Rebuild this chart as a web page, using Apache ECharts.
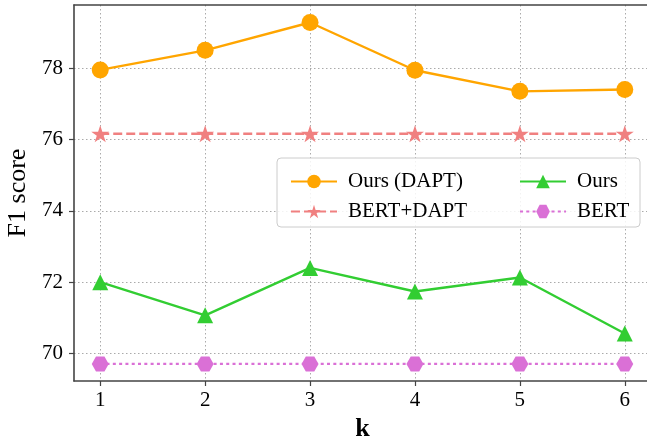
<!DOCTYPE html>
<html>
<head>
<meta charset="utf-8">
<script src="https://cdn.jsdelivr.net/npm/echarts@6/dist/echarts.min.js"></script>
<style>
html,body{margin:0;padding:0;background:#fff;}
#chart{width:647px;height:443px;}
</style>
</head>
<body>
<div id="chart"></div>
<script>
const kValues = [1, 2, 3, 4, 5, 6];
const yTicks = [70, 72, 74, 76, 78];
const oursDapt = [77.95, 78.50, 79.28, 77.94, 77.35, 77.40];
const bertDapt = [76.16, 76.16, 76.16, 76.16, 76.16, 76.16];
const ours = [72.00, 71.07, 72.40, 71.74, 72.13, 70.56];
const bert = [69.71, 69.71, 69.71, 69.71, 69.71, 69.71];

const FONT = 'Liberation Serif';
const pairs = arr => kValues.map((k, i) => [k, arr[i]]);
const STAR = 'path://M0,-10 L2.245,-3.09 L9.51,-3.09 L3.633,1.18 L5.88,8.09 L0,3.82 L-5.88,8.09 L-3.633,1.18 L-9.51,-3.09 L-2.245,-3.09 Z';
const HEX = 'path://M0,8 L4.6,0 L13.8,0 L18.4,8 L13.8,16 L4.6,16 Z';
const spine = {show: true, lineStyle: {color: '#444', width: 1.6}};
const grid = {show: true, lineStyle: {color: '#aaa', width: 1, type: [1.5, 2.5]}};

const chart = echarts.init(document.getElementById('chart'), null, {renderer: 'canvas'});
chart.setOption({
  animation: false,
  backgroundColor: '#fff',
  grid: {left: 74, top: 5, right: -4, bottom: 62, containLabel: false, outerBoundsMode: 'none'},
  xAxis: [{
    type: 'value', min: 0.75, max: 6.25,
    axisLine: spine,
    axisTick: {show: true, length: 5, lineStyle: {color: '#444', width: 1.2}, customValues: kValues},
    axisLabel: {fontFamily: FONT, fontSize: 21, color: '#000', margin: 9, customValues: kValues},
    splitLine: grid,
    name: 'k', nameLocation: 'middle', nameGap: 32,
    nameTextStyle: {fontFamily: FONT, fontSize: 26, fontWeight: 'bold', color: '#000'}
  }, {
    type: 'value', position: 'top', min: 0.75, max: 6.25,
    axisLine: spine, axisTick: {show: false}, axisLabel: {show: false}, splitLine: {show: false}
  }],
  yAxis: {
    type: 'value', min: 69.23, max: 79.77,
    axisLine: spine,
    axisTick: {show: true, length: 5, lineStyle: {color: '#444', width: 1.2}, customValues: yTicks},
    axisLabel: {fontFamily: FONT, fontSize: 21, color: '#000', margin: 11, customValues: yTicks},
    splitLine: grid,
    name: 'F1 score', nameLocation: 'middle', nameGap: 43,
    nameTextStyle: {fontFamily: FONT, fontSize: 26, color: '#000'}
  },
  graphic: [{
    type: 'rect', z: 3,
    shape: {x: 277, y: 158, width: 363, height: 69, r: 4},
    style: {fill: 'rgba(255,255,255,0.85)', stroke: '#cccccc', lineWidth: 1}
  }],
  legend: [{
    data: ['Ours (DAPT)', 'BERT+DAPT'],
    orient: 'vertical', left: 285, top: 166, z: 5,
    itemWidth: 46, itemHeight: 17, itemGap: 9,
    textStyle: {fontFamily: FONT, fontSize: 21, color: '#000', lineHeight: 21, padding: [0, 0, 0, 6]}
  }, {
    data: ['Ours', 'BERT'],
    orient: 'vertical', left: 514, top: 166, z: 5,
    itemWidth: 46, itemHeight: 17, itemGap: 9,
    textStyle: {fontFamily: FONT, fontSize: 21, color: '#000', lineHeight: 21, padding: [0, 0, 0, 6]}
  }],
  series: [{
    name: 'Ours (DAPT)', type: 'line', data: pairs(oursDapt),
    symbol: 'circle', symbolSize: 17,
    lineStyle: {color: '#FFA500', width: 2.4}, itemStyle: {color: '#FFA500'}
  }, {
    name: 'BERT+DAPT', type: 'line', data: pairs(bertDapt),
    symbol: STAR, symbolSize: 18, symbolKeepAspect: true,
    lineStyle: {color: '#F08080', width: 2.4, type: [9, 4]}, itemStyle: {color: '#F08080'}
  }, {
    name: 'Ours', type: 'line', data: pairs(ours),
    symbol: 'triangle', symbolSize: 16,
    lineStyle: {color: '#32CD32', width: 2.4}, itemStyle: {color: '#32CD32'}
  }, {
    name: 'BERT', type: 'line', data: pairs(bert),
    symbol: HEX, symbolSize: [17, 15],
    lineStyle: {color: '#DA70D6', width: 2.4, type: [3, 3.3]}, itemStyle: {color: '#DA70D6'}
  }]
});
</script>
</body>
</html>
